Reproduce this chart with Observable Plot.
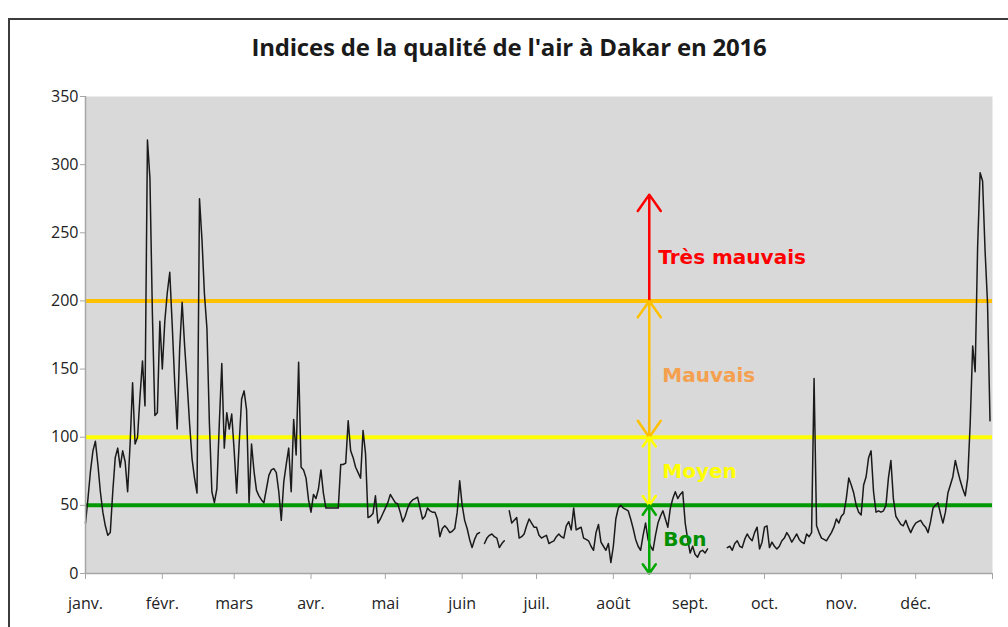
<!DOCTYPE html>
<html>
<head>
<meta charset="utf-8">
<script src="https://cdn.jsdelivr.net/npm/d3@7"></script>
<script src="https://cdn.jsdelivr.net/npm/@observablehq/plot@0.6"></script>
<style>
  body { margin: 0; background: #fff; }
  #wrap { position: relative; width: 1008px; height: 627px; overflow: hidden; background: #fff; }
  #title { height: 80px; box-sizing: border-box; padding-top: 30px; padding-left: 10px; text-align: center;
           font: bold 24px "Open Sans", sans-serif; color: #1a1a1a; line-height: 34px; letter-spacing: -0.2px; }
  .bord { position: absolute; background: #3c3c3c; }
</style>
</head>
<body>
<div id="wrap">
  <div id="title">Indices de la qualité de l'air à Dakar en 2016</div>
  <div id="chart"></div>
  <div class="bord" style="left:8px;top:18px;width:2px;height:640px;"></div>
  <div class="bord" style="left:8px;top:18px;width:1010px;height:2px;"></div>
</div>
<script>
// Daily air quality index, Dakar 2016 (null = missing)
const jan = [37,55,75,90,97,80,60,45,35,28,30,60,85,92,78,90,82,60,95,140,95,100,130,156,123,318,290,190,116,118,185];
const feb = [150,185,206,221,182,140,106,165,199,167,140,110,84,70,59,275,245,205,180,110,60,52,62,110,154,92,118,106,117];
const mar = [90,59,95,128,134,120,52,95,75,61,57,54,52,62,72,76,77,74,60,39,67,80,92,60,113,87,155,78,76,70,54];
const apr = [45,58,55,62,76,59,48,48,48,48,48,48,80,80,81,112,90,85,78,74,70,105,88,41,42,44,57,37,40,44];
const may = [48,52,58,55,52,51,45,38,42,48,52,54,55,56,48,40,42,48,46,45,45,40,27,33,35,33,30,31,33,45,68];
const jun = [50,39,33,25,19,25,29,30,null,22,26,28,29,27,26,19,22,24,null,46,37,39,41,26,27,29,35,40,37,34];
const jul = [34,28,26,27,28,22,23,24,27,29,27,26,35,38,32,48,32,33,34,26,25,24,20,17,30,36,23,20,17,22,8];
const aug = [20,40,48,50,48,47,46,40,33,25,20,17,28,37,25,20,17,28,37,42,46,40,34,48,55,60,55,58,60,37,25];
const sep = [15,20,14,12,16,17,15,18,null,null,null,null,null,null,null,19,20,17,22,24,20,19,25,29,26,24,30,34,18,23];
const oct = [34,35,19,23,20,18,20,24,26,30,27,23,26,29,25,23,22,29,27,30,143,35,30,26,25,24,27,30,34,40,37];
const nov = [42,44,55,70,65,59,50,45,43,65,71,85,90,60,45,46,45,46,50,70,83,55,42,39,36,35,39,34,30,34];
const dec = [37,38,39,36,34,30,38,48,50,52,44,37,45,59,65,71,83,75,68,62,57,70,110,167,148,240,294,288,237,198,112];

const monthLabels = ["janv.","févr.","mars","avr.","mai","juin","juil.","août","sept.","oct.","nov.","déc.",""];
const yTicks = [0,50,100,150,200,250,300,350];

// Threshold lines
const thresholds = [
  {value: 50,  color: "#009a00"},
  {value: 100, color: "#ffff00"},
  {value: 200, color: "#ffc000"}
];
// Zone arrows (from -> to)
const arrowFrom = [200, 150, 150, 75, 75, 25, 25];
const arrowTo   = [278, 200, 100, 100, 50, 50, 0];
const arrowColor = ["#ff0000","#ffc000","#ffc000","#ffff00","#ffff00","#00a800","#00a800"];
// Zone labels
const zoneLabels = ["Très mauvais","Mauvais","Moyen","Bon"];
const zoneLabelY = [232, 145, 75, 25];
const zoneLabelColor = ["#ff0000","#f5a04e","#ffff00","#008f00"];
const zoneLabelDx = [9, 13, 13, 14];

const arrowDate = new Date(Date.UTC(2016, 7, 15, 12));

const all = [jan,feb,mar,apr,may,jun,jul,aug,sep,oct,nov,dec].flat();
const data = all.map((v, i) => ({date: new Date(Date.UTC(2016, 0, 1 + i)), aqi: v}));
const monthTicks = d3.range(13).map(m => new Date(Date.UTC(2016, m, 1)));
const arrows = arrowFrom.map((f, i) => ({x: arrowDate, from: f, to: arrowTo[i], color: arrowColor[i]}));
const labels = zoneLabels.map((t, i) => ({x: arrowDate, y: zoneLabelY[i], text: t, color: zoneLabelColor[i], dx: zoneLabelDx[i]}));

const axisGray = "#a6a6a6";

const chart = Plot.plot({
  width: 1008,
  height: 547,
  marginTop: 16,
  marginBottom: 54,
  marginLeft: 85,
  marginRight: 16,
  style: {fontFamily: "Open Sans, sans-serif", fontSize: "16px", color: "#000", background: "transparent"},
  x: {type: "utc", domain: [new Date(Date.UTC(2016,0,1)), new Date(Date.UTC(2017,0,1))]},
  y: {domain: [0, 350]},
  color: {type: "identity"},
  marks: [
    Plot.frame({fill: "#d9d9d9", stroke: "none"}),
    ...thresholds.map(t => Plot.ruleY([t.value], {stroke: t.color, strokeWidth: 4})),
    Plot.line(data, {x: "date", y: "aqi", stroke: "#1a1a1a", strokeWidth: 1.5}),
    Plot.arrow(arrows, {x1: "x", x2: "x", y1: "from", y2: "to", stroke: "color", strokeWidth: 2.5, headLength: 12, headAngle: 70}),
    ...labels.map(l => Plot.text([l], {x: "x", y: "y", text: "text", fill: "color", dx: l.dx, textAnchor: "start",
      fontWeight: "bold", fontSize: 20, fontFamily: "DejaVu Sans"})),
    Plot.ruleX([new Date(Date.UTC(2016,0,1))], {stroke: axisGray, strokeWidth: 1.5}),
    Plot.ruleY([0], {stroke: axisGray, strokeWidth: 1.5}),
    Plot.axisY({ticks: yTicks, tickSize: 5, tickPadding: 2, stroke: axisGray, fill: "#222", label: null, fontSize: 16}),
    Plot.axisX({ticks: monthTicks, tickSize: 6, tickPadding: 18, stroke: axisGray, fill: "#222", label: null, fontSize: 16,
      tickFormat: d => monthLabels[(d.getUTCFullYear() - 2016) * 12 + d.getUTCMonth()] ?? ""})
  ]
});
document.getElementById("chart").appendChild(chart);
</script>
</body>
</html>
